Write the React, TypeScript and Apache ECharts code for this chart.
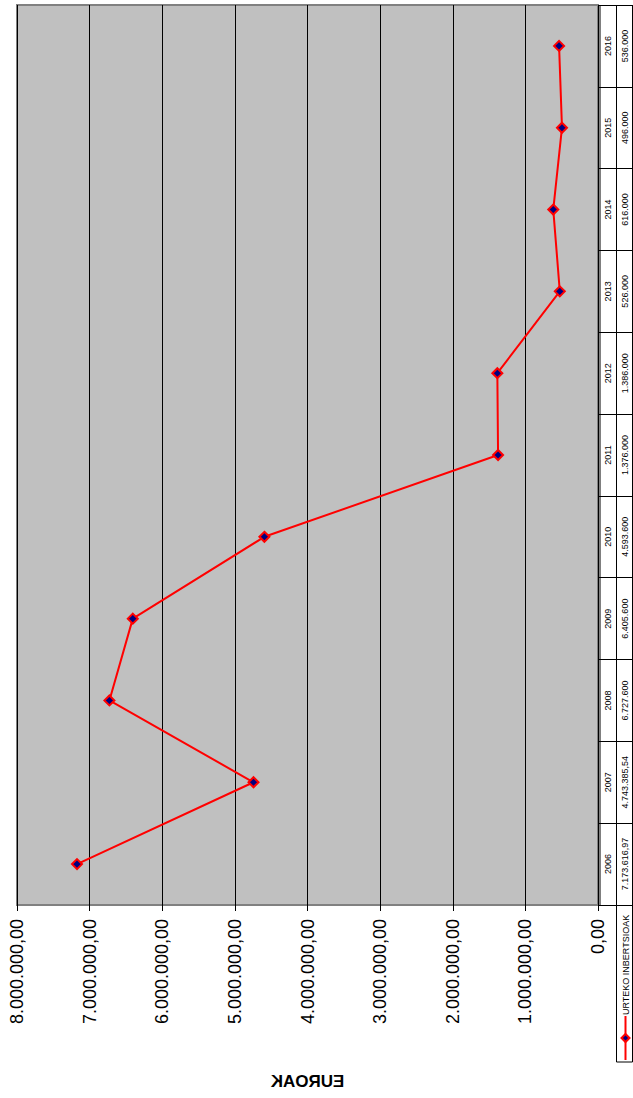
import React, { useEffect, useRef } from "react";
import * as echarts from "echarts";

const years = ["2006", "2007", "2008", "2009", "2010", "2011", "2012", "2013", "2014", "2015", "2016"];
const investments = [7173616.97, 4743385.54, 6727600, 6405600, 4593600, 1376000, 1386000, 526000, 616000, 496000, 536000];
const seriesName = "URTEKO INBERTSIOAK";
const axisTitle = "EUROAK";
const valueMin = 0;
const valueMax = 8000000;
const valueStep = 1000000;

const W = 633;
const H = 1098;
const PLOT_LEFT = 17;
const PLOT_RIGHT = 598;
const PLOT_TOP = 5;
const PLOT_BOTTOM = 905;
const COL1 = 600;
const COL2 = 616.5;
const COL3 = 632.5;
const LEGEND_BOTTOM = 1062;
const FONT = "Liberation Sans, Arial, sans-serif";

function fmt(v: number, forceDecimals: boolean): string {
  const isInt = Math.abs(v - Math.round(v)) < 1e-9;
  const dec = forceDecimals || !isInt ? 2 : 0;
  const s = v.toFixed(dec);
  const [ip, dp] = s.split(".");
  const withDots = ip.replace(/\B(?=(\d{3})+(?!\d))/g, ".");
  return dp ? withDots + "," + dp : withDots;
}

export default function App() {
  const ref = useRef<HTMLDivElement>(null);
  useEffect(() => {
    if (!ref.current) return;
    const chart = echarts.init(ref.current, null, { renderer: "svg" });
    const legendX = (COL2 + COL3) / 2 + 1;
    const legendDiamondY = LEGEND_BOTTOM - 24;
    chart.setOption({
      animation: false,
      backgroundColor: "#ffffff",
      textStyle: { fontFamily: FONT },
      grid: {
        show: true,
        left: PLOT_LEFT,
        right: W - PLOT_RIGHT,
        top: PLOT_TOP,
        bottom: H - PLOT_BOTTOM,
        backgroundColor: "#c0c0c0",
        borderColor: "#808080",
        borderWidth: 2,
        containLabel: false,
      },
      xAxis: {
        type: "value",
        inverse: true,
        min: valueMin,
        max: valueMax,
        interval: valueStep,
        position: "bottom",
        axisLine: { show: false },
        axisTick: { show: true, length: 6, lineStyle: { color: "#000", width: 1 } },
        splitLine: { show: true, lineStyle: { color: "#000", width: 1 } },
        axisLabel: {
          rotate: 90,
          margin: 14,
          fontSize: 18,
          color: "#000",
          fontFamily: FONT,
          formatter: (v: number) => fmt(v, true),
        },
      },
      yAxis: {
        type: "category",
        data: years,
        position: "right",
        boundaryGap: true,
        axisLine: { show: false },
        axisTick: { show: true, length: W - PLOT_RIGHT, lineStyle: { color: "#000", width: 1 } },
        splitLine: { show: false },
        axisLabel: {
          interval: 0,
          rotate: 90,
          margin: 2,
          fontSize: 9,
          lineHeight: 16.5,
          color: "#000",
          fontFamily: FONT,
          formatter: (v: string, i: number) => `${v}\n${fmt(investments[i], false)}`,
        },
      },
      series: [
        {
          name: seriesName,
          type: "line",
          data: investments,
          symbol: "diamond",
          symbolSize: 10,
          lineStyle: { color: "#ff0000", width: 2 },
          itemStyle: { color: "#000080", borderColor: "#ff0000", borderWidth: 2 },
          z: 5,
        },
      ],
      graphic: [
        { type: "line", silent: true, shape: { x1: COL1, y1: PLOT_TOP, x2: COL1, y2: PLOT_BOTTOM }, style: { stroke: "#000", lineWidth: 1 } },
        { type: "line", silent: true, shape: { x1: COL2, y1: PLOT_TOP, x2: COL2, y2: LEGEND_BOTTOM }, style: { stroke: "#000", lineWidth: 1 } },
        { type: "line", silent: true, shape: { x1: COL3, y1: PLOT_TOP, x2: COL3, y2: LEGEND_BOTTOM }, style: { stroke: "#000", lineWidth: 1 } },
        { type: "line", silent: true, shape: { x1: COL2, y1: LEGEND_BOTTOM, x2: COL3, y2: LEGEND_BOTTOM }, style: { stroke: "#000", lineWidth: 1 } },
        { type: "line", silent: true, shape: { x1: legendX, y1: legendDiamondY - 22, x2: legendX, y2: LEGEND_BOTTOM - 2 }, style: { stroke: "#ff0000", lineWidth: 2 } },
        {
          type: "polygon",
          silent: true,
          shape: { points: [[legendX, legendDiamondY - 4], [legendX + 4, legendDiamondY], [legendX, legendDiamondY + 4], [legendX - 4, legendDiamondY]] },
          style: { fill: "#000080", stroke: "#ff0000", lineWidth: 2 },
        },
        {
          type: "text",
          silent: true,
          x: legendX,
          y: legendDiamondY - 23,
          rotation: Math.PI / 2,
          style: { text: seriesName, fontSize: 9, fontFamily: FONT, fill: "#000", align: "left", verticalAlign: "middle" },
        },
        {
          type: "text",
          silent: true,
          x: (PLOT_LEFT + PLOT_RIGHT) / 2,
          y: 1081,
          scaleX: -1,
          style: { text: axisTitle, fontSize: 17, fontWeight: "bold", fontFamily: FONT, fill: "#000", align: "center", verticalAlign: "middle" },
        },
      ],
    });
    return () => chart.dispose();
  }, []);
  return <div ref={ref} style={{ position: "fixed", left: 0, top: 0, width: W, height: H, background: "#fff" }} />;
}
